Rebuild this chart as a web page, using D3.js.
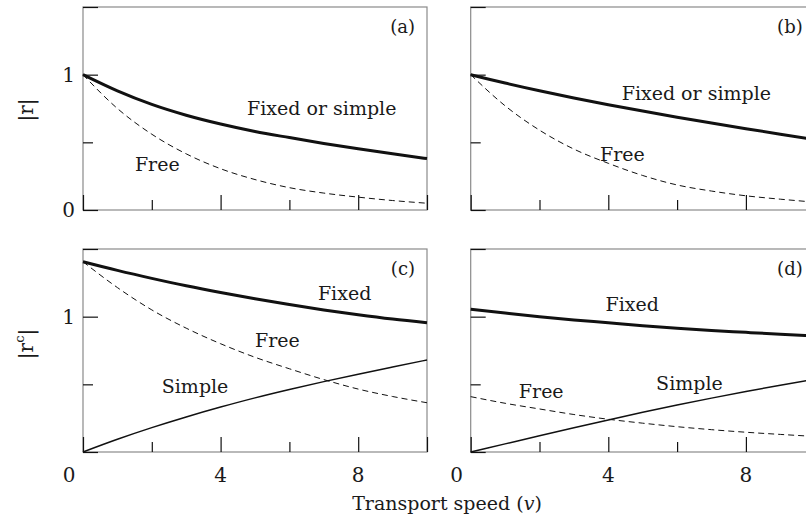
<!DOCTYPE html>
<html>
<head>
<meta charset="utf-8">
<script src="https://cdn.jsdelivr.net/npm/d3@7"></script>
<style>
  body { margin: 0; background: #fff; }
  text { font-family: 'DejaVu Serif', serif; fill: #1a1a1a; }
</style>
</head>
<body>
<svg width="806" height="521"></svg>
<script>
const speeds = [0, 1, 2, 3, 4, 5, 6, 7, 8, 9, 10]

const aFixed = [1.0, 0.88, 0.78, 0.7, 0.635, 0.58, 0.535, 0.492, 0.452, 0.415, 0.38]
const aFree = [1.0, 0.75, 0.56, 0.415, 0.305, 0.225, 0.165, 0.125, 0.095, 0.07, 0.05]

const bFixed = [1.0, 0.938, 0.881, 0.828, 0.778, 0.731, 0.686, 0.643, 0.601, 0.56, 0.52]
const bFree = [1.0, 0.77, 0.59, 0.45, 0.345, 0.255, 0.185, 0.14, 0.105, 0.08, 0.058]

const cFixed = [1.406, 1.342, 1.283, 1.228, 1.178, 1.132, 1.09, 1.05, 1.014, 0.982, 0.955]
const cFree = [1.406, 1.215, 1.05, 0.915, 0.8, 0.7, 0.615, 0.535, 0.465, 0.41, 0.364]
const cSimple = [0, 0.094, 0.18, 0.259, 0.332, 0.4, 0.462, 0.52, 0.575, 0.628, 0.68]

const dFixed = [1.055, 1.027, 1.0, 0.976, 0.955, 0.933, 0.914, 0.898, 0.884, 0.87, 0.857]
const dFree = [0.409, 0.36, 0.318, 0.277, 0.242, 0.213, 0.187, 0.165, 0.146, 0.13, 0.115]
const dSimple = [0, 0.06, 0.12, 0.179, 0.237, 0.293, 0.347, 0.398, 0.447, 0.493, 0.537]

const xMajor = [0, 4, 8, 10]
const xMinor = [2, 6]
const yMajor = [0, 1, 1.5]
const yMinor = [0.5]

const svg = d3.select('svg')

const panels = [
  { id: '(a)', left: 83, top: 7, bottom: 210,
    series: [{ values: aFixed, style: 'fixed' }, { values: aFree, style: 'free' }],
    notes: [{ text: 'Fixed or simple', v: 4.77, y: 0.702 }, { text: 'Free', v: 1.51, y: 0.288 }],
    yLabels: [0, 1], xLabels: false },
  { id: '(b)', left: 470.7, top: 7, bottom: 210,
    series: [{ values: bFixed, style: 'fixed' }, { values: bFree, style: 'free' }],
    notes: [{ text: 'Fixed or simple', v: 4.39, y: 0.813 }, { text: 'Free', v: 3.76, y: 0.362 }],
    yLabels: [], xLabels: false },
  { id: '(c)', left: 83, top: 249, bottom: 452,
    series: [{ values: cFixed, style: 'fixed' }, { values: cFree, style: 'free' }, { values: cSimple, style: 'simple' }],
    notes: [{ text: 'Fixed', v: 6.83, y: 1.123 }, { text: 'Free', v: 5.0, y: 0.778 }, { text: 'Simple', v: 2.29, y: 0.434 }],
    yLabels: [1], xLabels: true },
  { id: '(d)', left: 470.7, top: 249, bottom: 452,
    series: [{ values: dFixed, style: 'fixed' }, { values: dFree, style: 'free' }, { values: dSimple, style: 'simple' }],
    notes: [{ text: 'Fixed', v: 3.92, y: 1.042 }, { text: 'Free', v: 1.4, y: 0.397 }, { text: 'Simple', v: 5.39, y: 0.458 }],
    yLabels: [], xLabels: true }
]

const styles = {
  fixed: { width: 3, dash: null },
  free: { width: 1, dash: '6,4' },
  simple: { width: 1.5, dash: null }
}

for (let p of panels) {
  const x = d3.scaleLinear().domain([0, 10]).range([p.left, p.left + 344])
  const y = d3.scaleLinear().domain([0, 1.5]).range([p.bottom, p.top])
  const g = svg.append('g')

  // frame
  g.append('rect')
    .attr('x', x(0)).attr('y', y(1.5))
    .attr('width', x(10) - x(0)).attr('height', y(0) - y(1.5))
    .attr('fill', 'none').attr('stroke', '#8a8a8a').attr('stroke-width', 1.2)

  // inward ticks
  const tickAxis = (axis, vals, size, tr) => {
    const a = g.append('g').attr('transform', tr)
      .call(axis.tickValues(vals).tickSize(size).tickSizeOuter(0).tickFormat(''))
    a.select('.domain').remove()
    a.selectAll('line').attr('stroke', '#111').attr('stroke-width', 1.2)
  }
  tickAxis(d3.axisBottom(x), xMajor, -15, `translate(0,${y(0)})`)
  tickAxis(d3.axisBottom(x), xMinor, -10, `translate(0,${y(0)})`)
  tickAxis(d3.axisLeft(y), yMajor, -15, `translate(${x(0)},0)`)
  tickAxis(d3.axisLeft(y), yMinor, -10, `translate(${x(0)},0)`)

  const line = vals => d3.line()
    .x((d, i) => x(speeds[i]))
    .y(d => y(d))
    .curve(d3.curveMonotoneX)(vals)

  for (let s of p.series) {
    const st = styles[s.style]
    g.append('path')
      .attr('d', line(s.values))
      .attr('fill', 'none')
      .attr('stroke', '#111')
      .attr('stroke-width', st.width)
      .attr('stroke-dasharray', st.dash)
  }

  for (let n of p.notes) {
    g.append('text').attr('x', x(n.v)).attr('y', y(n.y))
      .attr('font-size', 19).text(n.text)
  }

  g.append('text').attr('x', x(10) - 12).attr('y', y(1.5) + 26)
    .attr('text-anchor', 'end').attr('font-size', 18).text(p.id)

  for (let v of p.yLabels) {
    g.append('text').attr('x', x(0) - 8).attr('y', y(v))
      .attr('dy', '0.36em').attr('text-anchor', 'end')
      .attr('font-size', 20).text(v)
  }

  if (p.xLabels) {
    for (let v of [0, 4, 8]) {
      g.append('text').attr('x', x(v) - (v === 0 ? 14 : 0)).attr('y', y(0) + 30)
        .attr('text-anchor', 'middle').attr('font-size', 20).text(v)
    }
  }
}

// axis titles
const title = svg.append('text').attr('x', 447).attr('y', 510)
  .attr('text-anchor', 'middle').attr('font-size', 19)
title.append('tspan').text('Transport speed (')
title.append('tspan').attr('font-style', 'italic').text('v')
title.append('tspan').text(')')

svg.append('text').attr('transform', 'translate(33,110) rotate(-90)')
  .attr('text-anchor', 'middle').attr('font-size', 20).text('|r|')

const rc = svg.append('text').attr('transform', 'translate(33,344) rotate(-90)')
  .attr('text-anchor', 'middle').attr('font-size', 20)
rc.append('tspan').text('|r')
rc.append('tspan').attr('font-size', 13).attr('dy', -9).text('c')
rc.append('tspan').attr('dy', 9).text('|')
</script>
</body>
</html>
